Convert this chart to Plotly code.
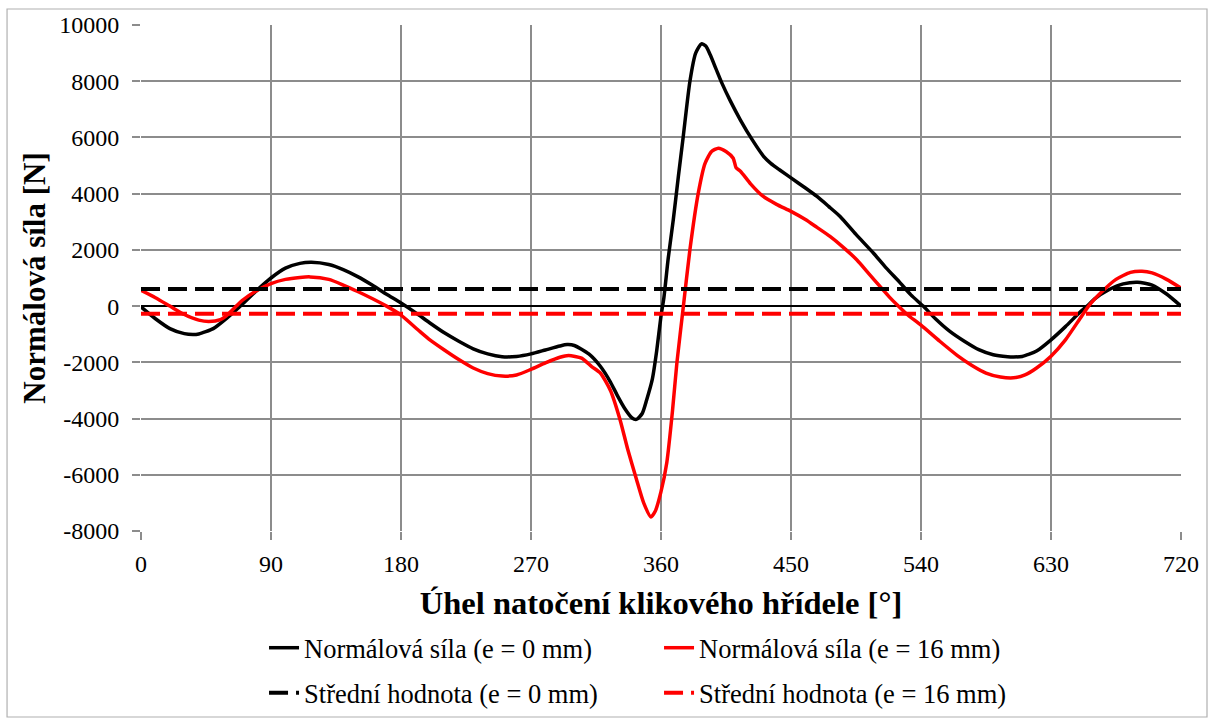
import plotly.graph_objects as go

# Crank angle [deg] and normal force [N], e = 0 mm
angle_e0 = [0, 10, 20, 30, 36, 40, 50, 60, 70, 80, 90, 100, 110, 118, 130, 140, 150, 160, 170, 180,
            190, 200, 210, 220, 230, 240, 250, 260, 270, 280, 290, 295, 300, 310, 318, 325, 330, 335,
            340, 343, 347, 350, 354, 357, 360, 362, 365, 368.5, 372, 375.4, 380, 384, 388, 391, 394,
            398, 402, 408, 415, 423, 431, 436, 442, 450, 460, 468, 476, 484, 495, 507, 516, 525, 533,
            541.5, 550, 560, 570, 580, 590, 600, 604, 610, 620, 630, 640, 650, 655, 660, 670, 680,
            690, 700, 710, 720]
force_e0 = [-30, -450, -800, -980, -1010, -990, -800, -400, 60, 550, 1000, 1350, 1520, 1560, 1480,
            1300, 1050, 750, 420, 110, -230, -600, -950, -1250, -1520, -1700, -1800, -1790, -1700,
            -1560, -1420, -1370, -1400, -1700, -2140, -2700, -3200, -3650, -3980, -4030, -3820,
            -3350, -2600, -1600, -350, 300, 1700, 3070, 4600, 6030, 7990, 9000, 9330, 9250, 8950,
            8450, 7950, 7300, 6620, 5930, 5330, 5080, 4850, 4560, 4200, 3900, 3550, 3190, 2550, 1890,
            1350, 860, 400, 0, -450, -900, -1250, -1550, -1730, -1800, -1810, -1790, -1600, -1200,
            -730, -220, 0, 250, 580, 790, 850, 750, 430, 0]

# Crank angle [deg] and normal force [N], e = 16 mm
angle_e16 = [0, 10, 20, 30, 40, 47, 55, 60, 66, 70, 80, 90, 100, 110, 117, 130, 140, 150, 160, 170,
             180, 193, 200, 210, 220, 230, 240, 250, 260, 270, 280, 290, 296, 305, 312, 318, 325,
             331.6, 337, 343, 348, 353, 356, 360, 364, 368, 371, 375.5, 380, 385.8, 390.5, 395,
             399.7, 405, 410, 412, 415, 422, 430.8, 440, 450, 460, 468, 477, 486, 495.5, 504,
             511.6, 518, 524.3, 530, 540, 553, 565, 575, 585, 595, 604, 612, 620, 630, 640, 650,
             656, 665, 675, 685, 693, 700, 710, 720]
force_e16 = [560, 300, 0, -300, -500, -550, -480, -300, 0, 200, 550, 800, 950, 1020, 1040, 950, 750,
             520, 270, 0, -320, -900, -1200, -1560, -1900, -2200, -2400, -2490, -2450, -2250, -2020,
             -1820, -1760, -1850, -2150, -2380, -3000, -4030, -5100, -6160, -7000, -7500, -7300,
             -6600, -5570, -3700, -2020, 0, 2000, 4020, 5080, 5500, 5620, 5500, 5260, 4920, 4800,
             4350, 3900, 3620, 3370, 3080, 2800, 2480, 2100, 1650, 1150, 700, 330, 0, -280, -680,
             -1250, -1750, -2100, -2380, -2520, -2550, -2450, -2200, -1780, -1200, -450, 0, 500,
             950, 1200, 1240, 1180, 950, 640]

# Mean values [N]
mean_range = [0, 720]
mean_e0 = 610
mean_e16 = -270

x_ticks = [0, 90, 180, 270, 360, 450, 540, 630, 720]
y_ticks = [-8000, -6000, -4000, -2000, 0, 2000, 4000, 6000, 8000, 10000]

names = ["Normálová síla (e = 0 mm)", "Normálová síla (e = 16 mm)",
         "Střední hodnota (e = 0 mm)", "Střední hodnota (e = 16 mm)"]

FONT = "Liberation Serif"

fig = go.Figure()
fig.add_trace(go.Scatter(x=angle_e0, y=force_e0, mode="lines", name=names[0], legend="legend",
                         line=dict(color="black", width=3.5, shape="spline", smoothing=0.6)))
fig.add_trace(go.Scatter(x=angle_e16, y=force_e16, mode="lines", name=names[1], legend="legend",
                         line=dict(color="#ff0000", width=3.5, shape="spline", smoothing=0.6)))
fig.add_trace(go.Scatter(x=mean_range, y=[mean_e0, mean_e0], mode="lines", name=names[2],
                         legend="legend2",
                         line=dict(color="black", width=4, dash="19px,8px")))
fig.add_trace(go.Scatter(x=mean_range, y=[mean_e16, mean_e16], mode="lines", name=names[3],
                         legend="legend2",
                         line=dict(color="#ff0000", width=4, dash="19px,8px")))

grid = "#8c8c8c"
fig.update_xaxes(range=[0, 720], tickvals=x_ticks, ticktext=[str(v) for v in x_ticks],
                 showgrid=True, gridcolor=grid, gridwidth=1.5, zeroline=False,
                 ticks="outside", ticklen=8, tickcolor=grid, tickwidth=1.5,
                 ticklabelstandoff=3,
                 showline=False, tickfont=dict(family=FONT, size=24, color="black"),
                 title=dict(text="<b>Úhel natočení klikového hřídele [°]</b>",
                            font=dict(family=FONT, size=32.5, color="black"), standoff=15))
fig.update_yaxes(range=[-8000, 10000], tickvals=y_ticks, ticktext=[str(v) for v in y_ticks],
                 showgrid=True, gridcolor=grid, gridwidth=1.5,
                 zeroline=True, zerolinecolor="black", zerolinewidth=1.5,
                 ticks="outside", ticklen=8, tickcolor=grid, tickwidth=1.5,
                 ticklabelstandoff=8,
                 showline=False, tickfont=dict(family=FONT, size=24, color="black"),
                 title=dict(text="<b>Normálová síla [N]</b>",
                            font=dict(family=FONT, size=31, color="black"), standoff=4))

legend_common = dict(orientation="h", xanchor="left", yanchor="middle",
                     entrywidth=350, entrywidthmode="pixels", traceorder="normal",
                     font=dict(family=FONT, size=26.5, color="black"),
                     bgcolor="rgba(0,0,0,0)")

fig.update_layout(
    width=1215, height=718,
    margin=dict(l=141, r=34, t=25, b=187, autoexpand=False),
    paper_bgcolor="white", plot_bgcolor="white",
    font=dict(family=FONT, color="black"),
    legend=dict(x=0.1183, y=-0.2312, **legend_common),
    legend2=dict(x=0.1183, y=-0.3202, **legend_common),
    shapes=[dict(type="rect", xref="paper", yref="paper",
                 x0=-0.1288, x1=1.025, y0=-0.3676, y1=1.0316,
                 line=dict(color="#b0b0b0", width=1.2), fillcolor="rgba(0,0,0,0)", layer="below")],
)

fig.write_html("out.html")
